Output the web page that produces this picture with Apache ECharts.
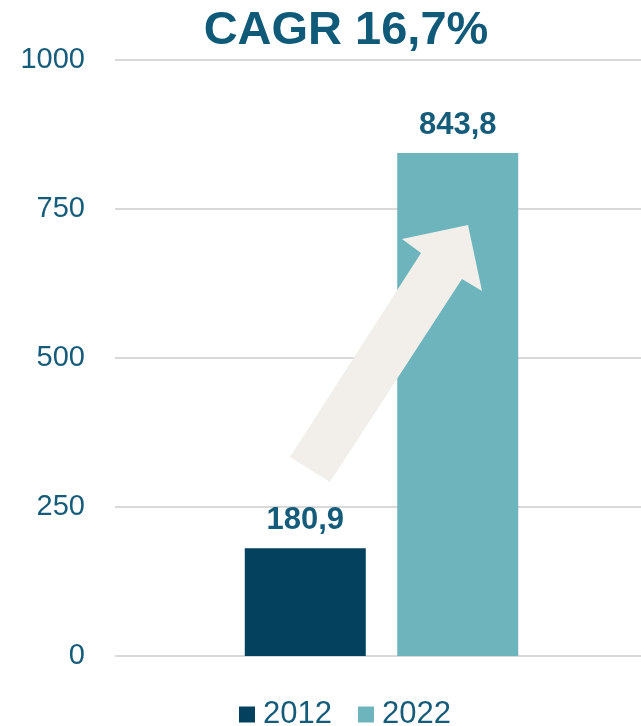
<!DOCTYPE html>
<html>
<head>
<meta charset="utf-8">
<script src="https://cdn.jsdelivr.net/npm/echarts@6/dist/echarts.min.js"></script>
<style>
  html, body { margin: 0; padding: 0; background: #fff; }
  #chart { width: 641px; height: 726px; }
</style>
</head>
<body>
<div id="chart"></div>
<script>
// data
const seriesNames = ['2012', '2022'];
const values = [180.9, 843.8];
const seriesColors = ['#03415E', '#6DB4BC'];
const yTicks = [0, 250, 500, 750, 1000];
const titleText = 'CAGR 16,7%';

const chart = echarts.init(document.getElementById('chart'));
const textColor = '#155C7A';
const font = 'Liberation Sans, Arial, sans-serif';

const series = seriesNames.map(function (name, i) {
  return {
    name: name,
    type: 'bar',
    data: [values[i]],
    barWidth: 121,
    barGap: '26%',
    itemStyle: { color: seriesColors[i] },
    label: {
      show: true,
      position: 'top',
      distance: 12,
      color: textColor,
      fontFamily: font,
      fontWeight: 'bold',
      fontSize: 31,
      formatter: function (p) {
        return String(p.value).replace('.', ',');
      }
    }
  };
});

const option = {
  animation: false,
  title: {
    text: titleText,
    left: 341,
    top: 3,
    textAlign: 'center',
    textStyle: {
      color: '#0F5A78',
      fontFamily: font,
      fontWeight: 'bold',
      fontSize: 47
    }
  },
  legend: {
    top: 694,
    left: 234,
    itemWidth: 16,
    itemHeight: 16,
    itemGap: 26,
    icon: 'rect',
    textStyle: {
      color: textColor, fontFamily: font, fontSize: 31,
      padding: [0, 0, 0, 3]
    },
    data: seriesNames
  },
  grid: {
    left: 115, width: 533, top: 60, bottom: 70,
    containLabel: false,
    outerBoundsMode: 'none'
  },
  xAxis: {
    type: 'category',
    data: [''],
    axisLine: { show: false },
    axisTick: { show: false },
    axisLabel: { show: false }
  },
  yAxis: {
    type: 'value',
    min: yTicks[0],
    max: yTicks[yTicks.length - 1],
    interval: 250,
    axisLine: { show: false },
    axisTick: { show: false },
    axisLabel: {
      margin: 30,
      color: textColor,
      fontFamily: font,
      fontSize: 29,
      formatter: function (v) { return String(v); }
    },
    splitLine: { lineStyle: { color: '#D9D9D9', width: 2 } }
  },
  graphic: [
    {
      // decorative growth arrow
      type: 'polygon',
      z: 100,
      shape: {
        points: [
          [290, 457], [330, 482], [462, 279], [482, 291],
          [468, 225], [402, 239], [421, 253]
        ]
      },
      style: { fill: '#F2EFEA' }
    }
  ],
  series: series
};

chart.setOption(option);
window.addEventListener('resize', function () {
  chart.resize();
});
</script>
</body>
</html>
